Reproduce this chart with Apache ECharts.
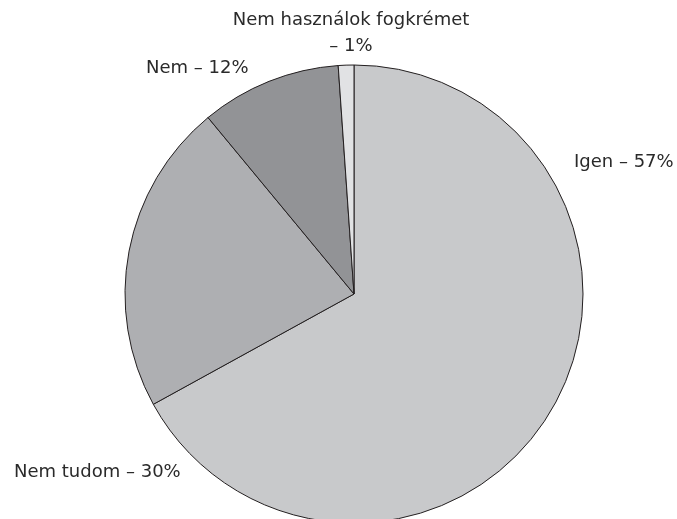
<!DOCTYPE html>
<html>
<head>
<meta charset="utf-8">
<script src="https://cdn.jsdelivr.net/npm/echarts@6/dist/echarts.min.js"></script>
<style>html,body{margin:0;padding:0;background:#fff;}#c{width:677px;height:519px;}</style>
</head>
<body>
<div id="c"></div>
<script>
var categories = ['Igen', 'Nem tudom', 'Nem', 'Nem használok fogkrémet'];
var values = [67, 22, 9.9, 1.1];
// Label texts as printed in the picture
var labelTexts = ['Igen – 57%', 'Nem tudom – 30%', 'Nem – 12%', 'Nem használok fogkrémet\n– 1%'];

var colors = ['#c8c9cb', '#aeafb2', '#929396', '#e1e2e4'];
var labelPos = [
  {x: 574, y: 162, align: 'left'},
  {x: 14, y: 472, align: 'left'},
  {x: 146, y: 68, align: 'left'},
  {x: 351, y: 33, align: 'center'}
];

var chart = echarts.init(document.getElementById('c'), null, {renderer: 'canvas'});
chart.setOption({
  animation: false,
  backgroundColor: '#ffffff',
  series: [{
    type: 'pie',
    center: [354, 294],
    radius: 229,
    startAngle: 90,
    clockwise: true,
    avoidLabelOverlap: false,
    silent: true,
    data: categories.map(function (c, i) {
      return {name: c, value: values[i], itemStyle: {color: colors[i]}};
    }),
    itemStyle: {borderColor: '#231f20', borderWidth: 1},
    label: {
      show: true,
      formatter: function (p) { return labelTexts[p.dataIndex]; },
      fontFamily: '"DejaVu Sans", sans-serif',
      fontSize: 18,
      lineHeight: 26,
      color: '#2a2a2a'
    },
    labelLine: {show: false},
    labelLayout: function (p) {
      var lp = labelPos[p.dataIndex];
      return {x: lp.x, y: lp.y, align: lp.align, verticalAlign: 'middle'};
    }
  }]
});
</script>
</body>
</html>
